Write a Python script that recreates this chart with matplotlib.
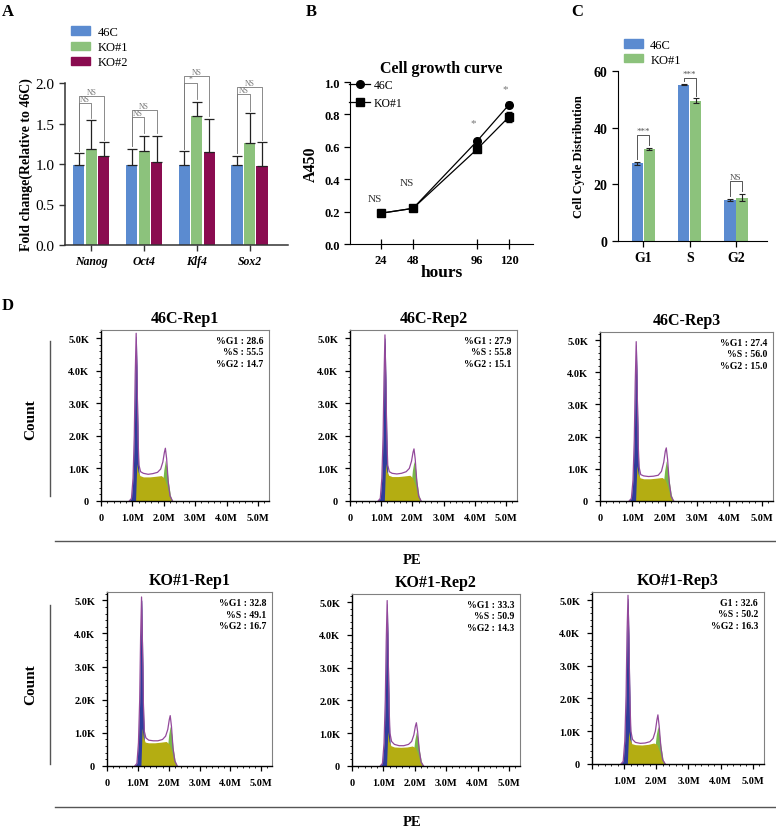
import matplotlib
matplotlib.use('Agg')
import matplotlib.pyplot as plt
from matplotlib.patches import Patch
from matplotlib.lines import Line2D
from matplotlib.ticker import MultipleLocator
import numpy as np

plt.rcParams['font.family'] = ['Liberation Serif', 'DejaVu Serif']

# ---- panel A: qPCR fold change ----
genes = ['Nanog', 'Oct4', 'Klf4', 'Sox2']
fold_46c = [0.99, 0.99, 0.99, 0.99]
fold_46c_err = [0.14, 0.20, 0.17, 0.11]
fold_ko1 = [1.18, 1.16, 1.59, 1.26]
fold_ko1_err = [0.36, 0.19, 0.18, 0.37]
fold_ko2 = [1.10, 1.02, 1.15, 0.98]
fold_ko2_err = [0.17, 0.33, 0.41, 0.29]
sig_a_low = ['NS', 'NS', '*', 'NS']
sig_a_low_y = [1.75, 1.58, 2.00, 1.86]
sig_a_high = ['NS', 'NS', 'NS', 'NS']
sig_a_high_y = [1.84, 1.67, 2.09, 1.95]

# ---- panel B: growth curve ----
hours = [24, 48, 96, 120]
a450_46c = [0.19, 0.22, 0.635, 0.86]
a450_46c_err = [0.01, 0.01, 0.015, 0.015]
a450_ko1 = [0.19, 0.22, 0.585, 0.785]
a450_ko1_err = [0.01, 0.01, 0.015, 0.03]
sig_b = ['NS', 'NS', '*', '*']
sig_b_y = [0.28, 0.38, 0.75, 0.96]

# ---- panel C: cell cycle distribution ----
phases = ['G1', 'S', 'G2']
cc_46c = [27.4, 55.2, 14.5]
cc_46c_err = [0.6, 0.3, 0.3]
cc_ko1 = [32.5, 49.5, 15.3]
cc_ko1_err = [0.4, 0.8, 1.3]
sig_c = ['***', '***', 'NS']
sig_c_y = [37.5, 57.4, 21.3]

# ---- panel D: PE histograms (x in M, counts in K) ----
hist_titles = ['46C-Rep1', '46C-Rep2', '46C-Rep3', 'KO#1-Rep1', 'KO#1-Rep2', 'KO#1-Rep3']
hist_stats = [['%G1 : 28.6', '%S : 55.5', '%G2 : 14.7'],
              ['%G1 : 27.9', '%S : 55.8', '%G2 : 15.1'],
              ['%G1 : 27.4', '%S : 56.0', '%G2 : 15.0'],
              ['%G1 : 32.8', '%S : 49.1', '%G2 : 16.7'],
              ['%G1 : 33.3', '%S : 50.9', '%G2 : 14.3'],
              ['G1 : 32.6', '%S : 50.2', '%G2 : 16.3']]
pe_x = [0.90, 0.97, 1.02, 1.06, 1.09, 1.12, 1.15, 1.18, 1.21, 1.26, 1.35, 1.50,
        1.65, 1.80, 1.90, 1.97, 2.02, 2.05, 2.09, 2.14, 2.20, 2.28]
pe_total = [
    [0, 0.08, 0.7, 2.0, 3.9, 5.15, 3.7, 1.9, 1.1, 0.9, 0.85, 0.82, 0.84, 0.88, 0.98, 1.2, 1.5, 1.62, 1.3, 0.6, 0.15, 0],
    [0, 0.08, 0.7, 2.0, 3.8, 5.1, 3.6, 1.9, 1.1, 0.9, 0.85, 0.83, 0.85, 0.9, 1.0, 1.22, 1.5, 1.6, 1.28, 0.6, 0.15, 0],
    [0, 0.08, 0.65, 1.9, 3.7, 4.95, 3.5, 1.8, 1.05, 0.82, 0.78, 0.76, 0.77, 0.8, 0.92, 1.2, 1.55, 1.65, 1.3, 0.6, 0.15, 0],
    [0, 0.08, 0.7, 2.0, 3.9, 5.1, 3.7, 1.9, 1.05, 0.85, 0.78, 0.76, 0.76, 0.8, 0.9, 1.1, 1.4, 1.52, 1.2, 0.55, 0.15, 0],
    [0, 0.08, 0.7, 2.0, 3.8, 5.05, 3.6, 1.8, 1.0, 0.75, 0.66, 0.62, 0.62, 0.66, 0.75, 0.95, 1.22, 1.32, 1.05, 0.5, 0.12, 0],
    [0, 0.08, 0.7, 2.1, 4.0, 5.15, 3.7, 1.9, 1.0, 0.75, 0.66, 0.63, 0.64, 0.68, 0.78, 1.0, 1.35, 1.5, 1.15, 0.55, 0.12, 0]]
g1_x = [0.90, 0.97, 1.02, 1.06, 1.09, 1.12, 1.15, 1.18, 1.21, 1.25]
g1_fit = [
    [0, 0.08, 0.7, 1.95, 3.8, 5.05, 3.5, 1.6, 0.55, 0],
    [0, 0.08, 0.7, 1.95, 3.7, 5.0, 3.4, 1.6, 0.55, 0],
    [0, 0.08, 0.65, 1.85, 3.6, 4.85, 3.3, 1.5, 0.5, 0],
    [0, 0.08, 0.7, 1.95, 3.8, 5.0, 3.5, 1.6, 0.55, 0],
    [0, 0.08, 0.7, 1.95, 3.7, 4.95, 3.4, 1.5, 0.5, 0],
    [0, 0.08, 0.7, 2.05, 3.9, 5.05, 3.5, 1.6, 0.55, 0]]
s_x = [1.10, 1.14, 1.18, 1.24, 1.35, 1.55, 1.75, 1.92, 2.02, 2.10, 2.17, 2.23]
s_fit = [
    [0, 1.15, 0.9, 0.78, 0.74, 0.74, 0.76, 0.78, 0.7, 0.45, 0.15, 0],
    [0, 1.15, 0.9, 0.79, 0.75, 0.75, 0.77, 0.79, 0.7, 0.45, 0.15, 0],
    [0, 1.1, 0.85, 0.72, 0.69, 0.69, 0.71, 0.73, 0.66, 0.42, 0.14, 0],
    [0, 1.15, 0.85, 0.72, 0.70, 0.70, 0.72, 0.74, 0.66, 0.42, 0.14, 0],
    [0, 1.05, 0.75, 0.62, 0.58, 0.57, 0.58, 0.61, 0.56, 0.36, 0.12, 0],
    [0, 1.0, 0.75, 0.62, 0.59, 0.58, 0.60, 0.64, 0.6, 0.38, 0.12, 0]]
g2_x = [1.85, 1.94, 2.00, 2.05, 2.10, 2.15, 2.21, 2.27]
g2_fit = [
    [0, 0.35, 0.95, 1.25, 1.0, 0.55, 0.18, 0],
    [0, 0.35, 0.95, 1.22, 1.0, 0.55, 0.18, 0],
    [0, 0.35, 0.95, 1.25, 1.0, 0.55, 0.18, 0],
    [0, 0.35, 0.95, 1.2, 0.95, 0.5, 0.16, 0],
    [0, 0.3, 0.8, 1.05, 0.85, 0.45, 0.14, 0],
    [0, 0.35, 0.9, 1.15, 0.9, 0.5, 0.15, 0]]

W, H = 776, 828
fig = plt.figure(figsize=(W / 100, H / 100), dpi=100)


def add_ax(l, t, r, b):
    return fig.add_axes([l / W, 1 - b / H, (r - l) / W, (b - t) / H])


def fx(x):
    return x / W


def fy(y):
    return 1 - y / H


def bracket(ax, x1, x2, y, y1, y2, text, fs, color, lw=0.6):
    ax.plot([x1, x1, x2, x2], [y1, y, y, y2], color=color, lw=lw, clip_on=False)
    ax.text((x1 + x2) / 2, y, text, ha='center', va='bottom', fontsize=fs,
            color=color, clip_on=False)


blue = '#5b8bd0'
green = '#8cc27c'
maroon = '#8a0c50'

# ================= A =================
ax = add_ax(65, 84, 288, 246)
xa = np.arange(len(genes))
off, bw = 0.237, 0.21
ekw = dict(ecolor='#222222', elinewidth=0.9, capsize=3.5, capthick=0.9)
z = [0] * len(genes)
ax.bar(xa - off, fold_46c, bw, color=blue, yerr=[z, fold_46c_err], error_kw=ekw)
ax.bar(xa, fold_ko1, bw, color=green, yerr=[z, fold_ko1_err], error_kw=ekw)
ax.bar(xa + off, fold_ko2, bw, color=maroon, yerr=[z, fold_ko2_err], error_kw=ekw)
for i in range(len(genes)):
    c1 = fold_46c[i] + fold_46c_err[i]
    c2 = fold_ko1[i] + fold_ko1_err[i]
    c3 = fold_ko2[i] + fold_ko2_err[i]
    bracket(ax, i - off, i, sig_a_low_y[i], c1 + 0.03, c2 + 0.03, sig_a_low[i], 5.5, '#777777')
    bracket(ax, i - off, i + off, sig_a_high_y[i], c1 + 0.03, c3 + 0.03, sig_a_high[i], 5.5, '#777777')
ax.set_xlim(-0.5, 3.73)
ax.set_ylim(0, 2.0)
ax.set_yticks([0, 0.5, 1.0, 1.5, 2.0], ['0.0', '0.5', '1.0', '1.5', '2.0'], fontsize=11)
ax.set_xticks(xa, genes, fontsize=8.5, fontstyle='italic', fontweight='bold')
ax.set_ylabel('Fold change(Relative to 46C)', fontsize=10, fontweight='bold', labelpad=2)
for s in ['top', 'right']:
    ax.spines[s].set_visible(False)
for s in ['left', 'bottom']:
    ax.spines[s].set_linewidth(1.1)
    ax.spines[s].set_color('#333333')
ax.tick_params(length=4, width=1, color='#333333')
fig.legend(handles=[Patch(color=blue, label='46C'), Patch(color=green, label='KO#1'),
                    Patch(color=maroon, label='KO#2')],
           loc='upper left', bbox_to_anchor=(fx(71), fy(27)), frameon=False, fontsize=9,
           handlelength=1.5, handleheight=0.65, labelspacing=0.25, handletextpad=0.6,
           borderpad=0, borderaxespad=0)

# ================= B =================
ax = add_ax(350, 83, 533, 245)
ax.errorbar(hours, a450_46c, yerr=a450_46c_err, color='black', marker='o', ms=5.5,
            lw=0.9, capsize=2, elinewidth=0.8, label='46C')
ax.errorbar(hours, a450_ko1, yerr=a450_ko1_err, color='black', marker='s', ms=5.5,
            lw=0.9, capsize=2, elinewidth=0.8, label='KO#1')
for h, t, y in zip(hours, sig_b, sig_b_y):
    if t == 'NS':
        ax.text(h - 4.5, y, t, ha='center', va='center', fontsize=8, color='#333333')
    else:
        ax.text(h - 2.5, y, t, ha='center', va='center', fontsize=8, color='#777777')
ax.set_xlim(0.75, 138)
ax.set_ylim(0, 1.0)
ax.set_xticks(hours, [str(h) for h in hours], fontsize=9, fontweight='bold')
ax.set_yticks([0, 0.2, 0.4, 0.6, 0.8, 1.0], ['0.0', '0.2', '0.4', '0.6', '0.8', '1.0'],
              fontsize=9, fontweight='bold')
ax.tick_params(axis='x', direction='inout', length=7, width=0.9)
ax.tick_params(axis='y', length=4, width=0.9)
ax.set_ylabel('A450', fontsize=11.5, fontweight='bold', labelpad=4)
ax.set_xlabel('hours', fontsize=12.5, fontweight='bold', labelpad=-1)
ax.set_title('Cell growth curve', fontsize=11.5, fontweight='bold', pad=7)
for s in ['top', 'right']:
    ax.spines[s].set_visible(False)
ax.legend(handles=[Line2D([], [], color='black', marker='o', ms=5.5, lw=0.9, label='46C'),
                   Line2D([], [], color='black', marker='s', ms=5.5, lw=0.9, label='KO#1')],
          loc='upper left', bbox_to_anchor=(fx(349), fy(80)), bbox_transform=fig.transFigure,
          frameon=False, fontsize=8.5, handlelength=1.8, labelspacing=0.55, handletextpad=0.3,
          borderpad=0, borderaxespad=0)

# ================= C =================
ax = add_ax(618, 72, 767, 242)
xc = np.arange(len(phases))
offc, bwc = 0.13, 0.24
ekc = dict(ecolor='#222222', elinewidth=0.8, capsize=2.5, capthick=0.8)
ax.bar(xc - offc, cc_46c, bwc, color=blue, yerr=cc_46c_err, error_kw=ekc)
ax.bar(xc + offc, cc_ko1, bwc, color=green, yerr=cc_ko1_err, error_kw=ekc)
for i in range(len(phases)):
    bracket(ax, i - offc, i + offc, sig_c_y[i], cc_46c[i] + cc_46c_err[i] + 1,
            cc_ko1[i] + cc_ko1_err[i] + 1, sig_c[i], 6.5, '#555555', lw=0.7)
ax.set_xlim(-0.55, 2.67)
ax.set_ylim(0, 60)
ax.set_xticks(xc, phases, fontsize=10, fontweight='bold')
ax.set_yticks([0, 20, 40, 60], ['0', '20', '40', '60'], fontsize=10, fontweight='bold')
ax.tick_params(length=4, width=0.9)
ax.set_ylabel('Cell Cycle Distribution', fontsize=9, fontweight='bold', labelpad=6)
for s in ['top', 'right']:
    ax.spines[s].set_visible(False)
fig.legend(handles=[Patch(color=blue, label='46C'), Patch(color=green, label='KO#1')],
           loc='upper left', bbox_to_anchor=(fx(624), fy(40)), frameon=False, fontsize=9,
           handlelength=1.5, handleheight=0.65, labelspacing=0.2, handletextpad=0.6,
           borderpad=0, borderaxespad=0)

# ================= D =================
hist_boxes = [(101, 331, 269, 502), (350, 331, 517, 502), (600, 333, 773, 502),
              (107, 593, 272, 767), (352, 595, 520, 767), (592, 593, 764, 765)]
for i, box in enumerate(hist_boxes):
    ax = add_ax(*box)
    ax.fill_between(g1_x, g1_fit[i], color='#2f3d9c', lw=0.3, edgecolor='#2a2f80')
    ax.fill_between(g2_x, g2_fit[i], color='#79b84a', lw=0)
    ax.fill_between(s_x, s_fit[i], color='#b4ad12', lw=0)
    ax.plot(pe_x, pe_total[i], color='#93499b', lw=0.9)
    ax.set_xlim(0, 5.35)
    ax.set_ylim(0, 5.25)
    xl = ['0', '1.0M', '2.0M', '3.0M', '4.0M', '5.0M']
    if i == 5:
        xl[0] = ''
    ax.set_xticks([0, 1, 2, 3, 4, 5], xl, fontsize=7.5, fontweight='bold')
    ax.set_yticks([0, 1, 2, 3, 4, 5], ['0', '1.0K', '2.0K', '3.0K', '4.0K', '5.0K'],
                  fontsize=7.5, fontweight='bold')
    ax.xaxis.set_minor_locator(MultipleLocator(0.2))
    ax.yaxis.set_minor_locator(MultipleLocator(0.2))
    ax.tick_params(which='major', length=3.5, width=0.9, pad=5)
    ax.tick_params(which='minor', length=1.5, width=0.6)
    for s in ['top', 'right']:
        ax.spines[s].set_color('#808080')
        ax.spines[s].set_linewidth(0.8)
    for s in ['left', 'bottom']:
        ax.spines[s].set_linewidth(1.0)
    ax.set_title(hist_titles[i], fontsize=11.5, fontweight='bold', pad=6)
    ax.text(0.965, 0.965, '\n'.join(hist_stats[i]), transform=ax.transAxes, ha='right',
            va='top', fontsize=7, fontweight='bold', linespacing=1.35, multialignment='right')

for y0, y1, yc in [(342, 497, 420), (606, 765, 685)]:
    fig.add_artist(Line2D([fx(50), fx(50)], [fy(y0), fy(y1)], color='#555555', lw=1))
    fig.text(fx(31), fy(yc), 'Count', rotation=90, fontsize=11, fontweight='bold',
             ha='center', va='center')
for yl, yt in [(542, 561), (808, 823)]:
    fig.add_artist(Line2D([fx(55), fx(776)], [fy(yl), fy(yl)], color='#555555', lw=1))
    fig.text(fx(412), fy(yt), 'PE', fontsize=10.5, fontweight='bold', ha='center', va='center')

for lab, x, y in [('A', 8, 12), ('B', 311, 12), ('C', 577, 12), ('D', 8, 306)]:
    fig.text(fx(x), fy(y), lab, fontsize=12, fontweight='bold', ha='center', va='center')

fig.savefig('out.png', dpi=100)
